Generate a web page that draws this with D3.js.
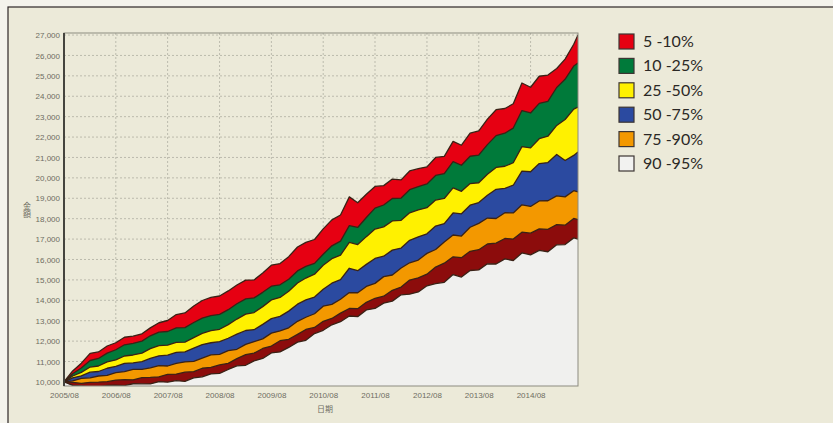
<!DOCTYPE html>
<html>
<head>
<meta charset="utf-8">
<script src="https://cdn.jsdelivr.net/npm/d3@7"></script>
<style>
  body { margin: 0; background: #f4f3ec; }
  svg { display: block; font-family: "Liberation Sans", Arial, sans-serif; }
</style>
</head>
<body>
<div id="chart"></div>
<script>
// months sampled every two months, 2005/08 .. 2015/07
var months = ["2005-08","2005-10","2005-12","2006-02","2006-04","2006-06","2006-08","2006-10","2006-12",
  "2007-02","2007-04","2007-06","2007-08","2007-10","2007-12","2008-02","2008-04","2008-06","2008-08",
  "2008-10","2008-12","2009-02","2009-04","2009-06","2009-08","2009-10","2009-12","2010-02","2010-04",
  "2010-06","2010-08","2010-10","2010-12","2011-02","2011-04","2011-06","2011-08","2011-10","2011-12",
  "2012-02","2012-04","2012-06","2012-08","2012-10","2012-12","2013-02","2013-04","2013-06","2013-08",
  "2013-10","2013-12","2014-02","2014-04","2014-06","2014-08","2014-10","2014-12","2015-02","2015-04",
  "2015-06","2015-07"];

// band boundaries (top edge of each band)
var pct5  = [10000,10540,10920,11400,11470,11760,11920,12190,12240,12360,12650,12900,13010,13300,13380,13720,13990,14140,14210,14460,14750,14990,15000,15340,15720,15800,16140,16610,16840,16980,17500,17940,18180,19070,18780,19200,19580,19620,19940,19900,20340,20450,20540,21000,21050,21790,21600,22190,22300,22880,23340,23400,23630,24650,24440,24980,25040,25360,25820,26550,27000];
var pct10 = [10000,10400,10680,11050,11150,11410,11577,11820,11890,12000,12260,12440,12470,12650,12660,12910,13130,13250,13310,13540,13830,14070,14120,14390,14690,14760,15030,15440,15660,15810,16260,16670,16900,17660,17570,18060,18520,18670,18990,19010,19420,19570,19700,20120,20210,20800,20620,21060,21120,21630,22070,22190,22440,23300,23180,23650,23750,24430,24830,25480,25630];
var pct25 = [10000,10290,10470,10730,10780,10980,11080,11270,11320,11410,11630,11780,11800,11940,11950,12170,12380,12510,12580,12810,13080,13320,13400,13690,14020,14140,14440,14850,15090,15280,15720,16040,16210,16840,16730,17120,17490,17600,17890,17920,18290,18430,18540,18910,18990,19510,19340,19720,19760,20180,20510,20570,20740,21530,21470,21920,22040,22570,22860,23370,23470];
var pct50 = [10000,10200,10300,10480,10510,10670,10760,10910,10930,10990,11150,11280,11310,11450,11470,11660,11830,11920,11970,12140,12340,12520,12560,12820,13100,13210,13470,13810,14020,14160,14540,14840,15010,15570,15450,15760,16050,16160,16460,16560,16940,17110,17260,17640,17760,18280,18240,18660,18790,19150,19440,19490,19640,20330,20300,20700,20750,21150,20850,21100,21270];
var pct75 = [10000,10050,10170,10200,10290,10320,10460,10500,10610,10615,10690,10800,10780,10910,10980,11010,11170,11330,11350,11530,11600,11840,11970,12110,12390,12500,12650,12970,13170,13340,13710,13800,14050,14380,14370,14680,14830,15160,15240,15580,15840,15970,16300,16490,16860,17200,17150,17580,17770,18030,18010,18290,18280,18680,18600,18870,18880,19120,19070,19370,19310];
var pct90 = [10000,9980,9930,9980,9990,10010,10090,10110,10105,10210,10220,10250,10370,10385,10480,10500,10670,10710,10830,10910,11140,11340,11410,11640,11760,12020,12090,12330,12570,12670,12970,13110,13370,13600,13590,13900,14100,14200,14490,14650,14990,15100,15280,15630,15820,16130,16090,16400,16480,16760,16800,17030,17000,17340,17290,17500,17480,17710,17680,18010,17950];
var pct95 = [10000,9830,9810,9750,9745,9830,9840,9820,9910,9905,9900,10010,9985,10065,10025,10200,10250,10390,10415,10610,10790,10815,11030,11150,11420,11470,11690,11950,12040,12370,12530,12800,12950,13230,13200,13530,13600,13860,13960,14270,14300,14410,14710,14820,14880,15260,15140,15460,15490,15790,15780,16030,15950,16320,16230,16450,16380,16720,16730,17060,17000];

var legendLabels = ["5 -10%", "10 -25%", "25 -50%", "50 -75%", "75 -90%", "90 -95%"];
var xTickLabels = ["2005/08","2006/08","2007/08","2008/08","2009/08","2010/08","2011/08","2012/08","2013/08","2014/08"];
var yTickValues = [10000,11000,12000,13000,14000,15000,16000,17000,18000,19000,20000,21000,22000,23000,24000,25000,26000,27000];

var bandColors = ["#e60012", "#007a3a", "#fff100", "#2b4aa0", "#f39800", "#8c0c0c", "#f0f0ee"];
var legendColors = ["#e60012", "#007a3a", "#fff100", "#2b4aa0", "#f39800", "#f2f2f0"];

var W = 833, H = 423;
var plot = {left: 64, top: 33, right: 578, bottom: 386};

var parseMonth = d3.timeParse("%Y-%m"),
    parseTick = d3.timeParse("%Y/%m");
var dates = months.map(parseMonth);

var x_scale = d3.scaleTime()
    .domain([parseMonth("2005-08"), parseMonth("2015-07")])
    .range([plot.left, plot.right]);
var y_scale = d3.scaleLinear()
    .domain([9800, 27100])
    .range([plot.bottom, plot.top]);

var svg = d3.select("#chart").append("svg").attr("width", W).attr("height", H);

// page + panel
svg.append("rect").attr("width", W).attr("height", H).attr("fill", "#f4f3ec");
svg.append("rect").attr("x", 8).attr("y", 7).attr("width", W + 20).attr("height", H + 20)
    .attr("fill", "#ecead9").attr("stroke", "#2e2626").attr("stroke-width", 1.2);

svg.append("clipPath").attr("id", "plotclip").append("rect")
    .attr("x", plot.left).attr("y", plot.top)
    .attr("width", plot.right - plot.left).attr("height", plot.bottom - plot.top);

// grid
var grid = svg.append("g").attr("class", "grid");
grid.selectAll(".hg").data(yTickValues).enter().append("line")
    .attr("x1", plot.left).attr("x2", plot.right)
    .attr("y1", function(d){ return y_scale(d); }).attr("y2", function(d){ return y_scale(d); })
    .attr("stroke", "#bcbbad").attr("stroke-dasharray", "2,2");
grid.selectAll(".vg").data(xTickLabels.map(parseTick)).enter().append("line")
    .attr("x1", function(d){ return x_scale(d); }).attr("x2", function(d){ return x_scale(d); })
    .attr("y1", plot.top).attr("y2", plot.bottom)
    .attr("stroke", "#bcbbad").attr("stroke-dasharray", "2,2");

// bands: each boundary filled down to the axis, drawn top to bottom
var series = [pct5, pct10, pct25, pct50, pct75, pct90, pct95];
var chart_g = svg.append("g").attr("clip-path", "url(#plotclip)");

var area = d3.area()
    .x(function(d, i){ return x_scale(dates[i]); })
    .y0(plot.bottom)
    .y1(function(d){ return y_scale(d); });
var line = d3.line()
    .x(function(d, i){ return x_scale(dates[i]); })
    .y(function(d){ return y_scale(d); });

series.forEach(function(s, k) {
  chart_g.append("path").datum(s).attr("d", area).attr("fill", bandColors[k]);
});
series.forEach(function(s) {
  chart_g.append("path").datum(s).attr("d", line)
    .attr("fill", "none").attr("stroke", "#3a2216").attr("stroke-width", 1.3)
    .attr("stroke-linejoin", "round");
});

// frame
svg.append("rect").attr("x", plot.left).attr("y", plot.top)
    .attr("width", plot.right - plot.left).attr("height", plot.bottom - plot.top)
    .attr("fill", "none").attr("stroke", "#8c8b80").attr("stroke-width", 1);
svg.append("line").attr("x1", plot.left).attr("x2", plot.left)
    .attr("y1", plot.top).attr("y2", plot.bottom)
    .attr("stroke", "#45443e").attr("stroke-width", 2);

// axes
var yAxis = d3.axisLeft(y_scale).tickValues(yTickValues)
    .tickFormat(d3.format(",")).tickSize(0).tickPadding(4);
var xAxis = d3.axisBottom(x_scale).tickValues(xTickLabels.map(parseTick))
    .tickFormat(d3.timeFormat("%Y/%m")).tickSize(0).tickPadding(6);

var yGroup = svg.append("g").attr("transform", "translate(" + plot.left + ",0)").call(yAxis);
var xGroup = svg.append("g").attr("transform", "translate(0," + plot.bottom + ")").call(xAxis);
[yGroup, xGroup].forEach(function(g) {
  g.select(".domain").remove();
  g.selectAll("text").attr("fill", "#6e6d62").attr("font-size", 8)
    .attr("font-family", "'Liberation Sans', Arial, sans-serif");
});

// axis titles
svg.append("text").attr("x", 325).attr("y", 412).attr("text-anchor", "middle")
    .attr("font-size", 8).attr("fill", "#6e6d62")
    .attr("font-family", "'Noto Sans CJK JP', sans-serif").text("日期");
svg.append("text").attr("x", 27).attr("y", 210).attr("text-anchor", "middle")
    .style("writing-mode", "vertical-rl")
    .attr("font-size", 8).attr("fill", "#6e6d62")
    .attr("font-family", "'Noto Sans CJK JP', sans-serif").text("金額");

// legend
var legend = svg.append("g").attr("transform", "translate(619,34)");
var items = legend.selectAll("g").data(legendLabels).enter().append("g")
    .attr("transform", function(d, i){ return "translate(0," + (i * 24.4) + ")"; });
items.append("rect").attr("width", 15).attr("height", 15)
    .attr("fill", function(d, i){ return legendColors[i]; })
    .attr("stroke", "#3d3533").attr("stroke-width", 1.2);
items.append("text").attr("x", 24).attr("y", 13)
    .attr("font-size", 16).attr("fill", "#2b2825")
    .attr("font-family", "Lato, 'Noto Sans', sans-serif")
    .text(function(d){ return d; });
</script>
</body>
</html>
